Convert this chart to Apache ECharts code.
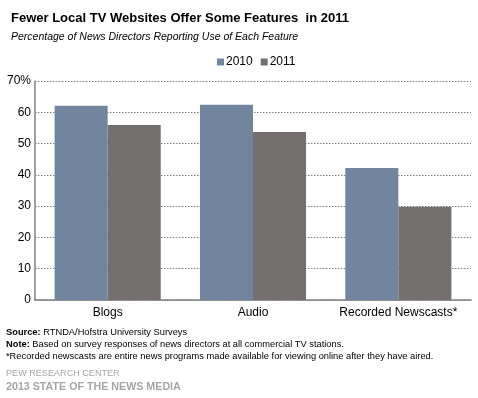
<!DOCTYPE html>
<html><head><meta charset="utf-8">
<script src="https://cdn.jsdelivr.net/npm/echarts@6/dist/echarts.min.js"></script>
<style>html,body{margin:0;padding:0;background:#fff}#c{width:478px;height:398px}</style>
</head><body><div id="c"></div>
<script>
const categories = ["Blogs", "Audio", "Recorded Newscasts*"];
const values2010 = [62.1, 62.4, 42.2];
const values2011 = [55.9, 53.7, 29.8];
const yTicks = [0, 10, 20, 30, 40, 50, 60, 70];

const F = "Arial, 'Liberation Sans', sans-serif";
const chart = echarts.init(document.getElementById('c'), null, {renderer: 'canvas'});
chart.setOption({
  animation: false,
  backgroundColor: '#fff',
  title: [
    {text: 'Fewer Local TV Websites Offer Some Features  in 2011', left: 6, top: 7,
     textStyle: {fontFamily: F, fontSize: 13, fontWeight: 'bold', color: '#000'}},
    {text: 'Percentage of News Directors Reporting Use of Each Feature', left: 6, top: 27,
     textStyle: {fontFamily: F, fontSize: 10.5, fontStyle: 'italic', fontWeight: 'normal', color: '#000'}}
  ],
  legend: {
    data: ['2010', '2011'], left: 212, top: 51, itemWidth: 7, itemHeight: 7, itemGap: 8,
    icon: 'rect', textStyle: {fontFamily: F, fontSize: 12, color: '#000', padding: [0,0,0,-3]}
  },
  grid: {left: 35, right: 7, top: 81, bottom: 98, containLabel: false},
  xAxis: {
    type: 'category', data: categories,
    axisLine: {lineStyle: {color: '#808080', width: 1.5}},
    axisTick: {show: false},
    axisLabel: {fontFamily: F, fontSize: 12, color: '#000', margin: 7, interval: 0}
  },
  yAxis: {
    type: 'value', min: 0, max: 70, interval: 10,
    axisLine: {show: true, lineStyle: {color: '#808080', width: 1.5}},
    axisTick: {show: false},
    axisLabel: {fontFamily: F, fontSize: 12, color: '#000', margin: 4,
      formatter: v => yTicks.includes(v) ? (v === 70 ? '70%' : String(v)) : ''},
    splitLine: {lineStyle: {color: '#808080', type: [1.5, 1.5], width: 1}}
  },
  series: [
    {name: '2010', type: 'bar', data: values2010, barGap: '0%', barCategoryGap: '27%',
     itemStyle: {color: '#71869E'}},
    {name: '2011', type: 'bar', data: values2011, itemStyle: {color: '#747070'}}
  ],
  graphic: [
    {type: 'text', left: 6, top: 328, style: {rich: {b: {fontWeight: 'bold', fontFamily: F, fontSize: 9.3, fill: '#000'}, n: {fontFamily: F, fontSize: 9.3, fill: '#000'}},
      text: '{b|Source:}{n| RTNDA/Hofstra University Surveys}'}},
    {type: 'text', left: 6, top: 340, style: {rich: {b: {fontWeight: 'bold', fontFamily: F, fontSize: 9.3, fill: '#000'}, n: {fontFamily: F, fontSize: 9.3, fill: '#000'}},
      text: '{b|Note:}{n| Based on survey responses of news directors at all commercial TV stations.}'}},
    {type: 'text', left: 6, top: 352, style: {text: '*Recorded newscasts are entire news programs made available for viewing online after they have aired.',
      fontFamily: F, fontSize: 9.3, fill: '#000'}},
    {type: 'text', left: 6, top: 369, style: {text: 'PEW RESEARCH CENTER', fontFamily: F, fontSize: 9.1, fill: '#a6a6a6'}},
    {type: 'text', left: 6, top: 382, style: {text: '2013 STATE OF THE NEWS MEDIA', fontFamily: F, fontSize: 10.7, fontWeight: 'bold', fill: '#a6a6a6'}}
  ]
});
</script></body></html>
